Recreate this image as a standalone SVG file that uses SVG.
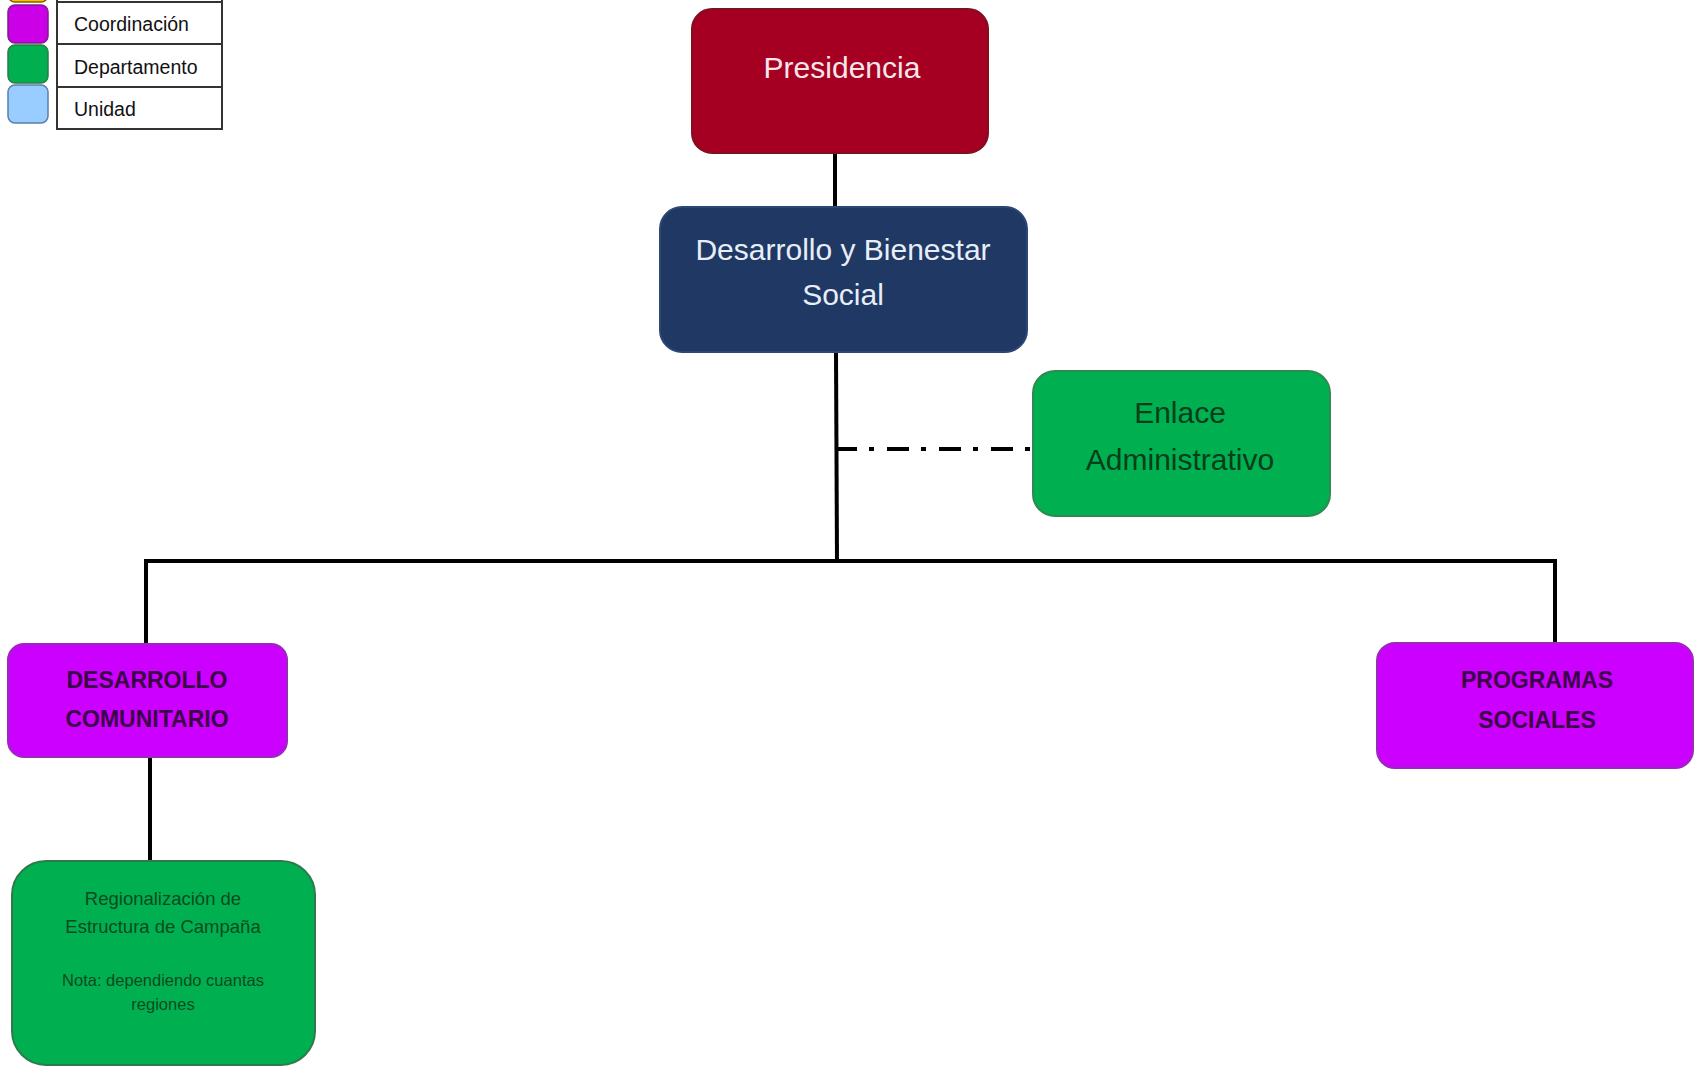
<svg xmlns="http://www.w3.org/2000/svg" width="1694" height="1067" viewBox="0 0 1694 1067">
<style>
.t{font-family:"Liberation Sans",Arial,sans-serif;text-anchor:middle}
.lg{font-family:"Liberation Sans",Arial,sans-serif;font-size:19.5px;fill:#111}
.line{stroke:#000;stroke-width:4;fill:none}
.cell{fill:#fff;stroke:#333;stroke-width:2}
.sw{stroke-width:1.5}
</style>
<rect width="1694" height="1067" fill="#fff"/>
<g id="legend">
<rect class="sw" x="8" y="-36" width="40" height="38" rx="7" fill="#ffc000" stroke="#7f6000"/>
<rect class="sw" x="8" y="5" width="40" height="38" rx="7" fill="#cc00e6" stroke="#7a1f8a"/>
<rect class="sw" x="8" y="45" width="40" height="38" rx="7" fill="#00b050" stroke="#2f7a4a"/>
<rect class="sw" x="8" y="85" width="40" height="38" rx="7" fill="#99ccff" stroke="#5a7fa8"/>
<rect class="cell" x="57" y="-40" width="165" height="42"/>
<rect class="cell" x="57" y="2" width="165" height="42"/>
<rect class="cell" x="57" y="44" width="165" height="43"/>
<rect class="cell" x="57" y="87" width="165" height="42"/>
<text class="lg" x="74" y="31">Coordinación</text>
<text class="lg" x="74" y="74">Departamento</text>
<text class="lg" x="74" y="116">Unidad</text>
</g>
<g id="connectors">
<line class="line" x1="835" y1="153" x2="835" y2="208"/>
<line class="line" x1="836" y1="352" x2="837" y2="562"/>
<line class="line" x1="838" y1="449" x2="1033" y2="449" stroke-dasharray="22 12 5 13" stroke-dashoffset="3"/>
<polyline class="line" points="146,644 146,561 1555,561 1555,643"/>
<line class="line" x1="150" y1="757" x2="150" y2="861"/>
</g>
<g id="presidencia">
<rect x="692" y="9" width="296" height="144" rx="20" fill="#a50021" stroke="#7e1020" stroke-width="2"/>
<text class="t" x="842" y="78" font-size="30" fill="#f4e6ea">Presidencia</text>
</g>
<g id="desarrollo-bienestar">
<rect x="660" y="207" width="367" height="145" rx="22" fill="#203864" stroke="#2c4676" stroke-width="2"/>
<text class="t" x="843" y="260" font-size="30" fill="#e8eef8">Desarrollo y Bienestar</text>
<text class="t" x="843" y="305" font-size="30" fill="#e8eef8">Social</text>
</g>
<g id="enlace">
<rect x="1033" y="371" width="297" height="145" rx="22" fill="#00b050" stroke="#2f8a52" stroke-width="2"/>
<text class="t" x="1180" y="423" font-size="30" fill="#063d1a">Enlace</text>
<text class="t" x="1180" y="470" font-size="30" fill="#063d1a">Administrativo</text>
</g>
<g id="desarrollo-comunitario">
<rect x="8" y="644" width="279" height="113" rx="16" fill="#cc00ff" stroke="#9a2ab8" stroke-width="2"/>
<text class="t" x="147" y="688" font-size="23" font-weight="bold" fill="#3c0048">DESARROLLO</text>
<text class="t" x="147" y="727" font-size="23" font-weight="bold" fill="#3c0048">COMUNITARIO</text>
</g>
<g id="programas-sociales">
<rect x="1377" y="643" width="316" height="125" rx="18" fill="#cc00ff" stroke="#9a2ab8" stroke-width="2"/>
<text class="t" x="1537" y="688" font-size="23" font-weight="bold" fill="#3c0048">PROGRAMAS</text>
<text class="t" x="1537" y="728" font-size="23" font-weight="bold" fill="#3c0048">SOCIALES</text>
</g>
<g id="regionalizacion">
<rect x="12" y="861" width="303" height="204" rx="34" fill="#00b050" stroke="#2f7a4a" stroke-width="2"/>
<text class="t" x="163" y="905" font-size="18.5" fill="#0a4a20">Regionalización de</text>
<text class="t" x="163" y="933" font-size="18.5" fill="#0a4a20">Estructura de Campaña</text>
<text class="t" x="163" y="986" font-size="16.5" fill="#0a4a20">Nota: dependiendo cuantas</text>
<text class="t" x="163" y="1010" font-size="16.5" fill="#0a4a20">regiones</text>
</g>
</svg>
